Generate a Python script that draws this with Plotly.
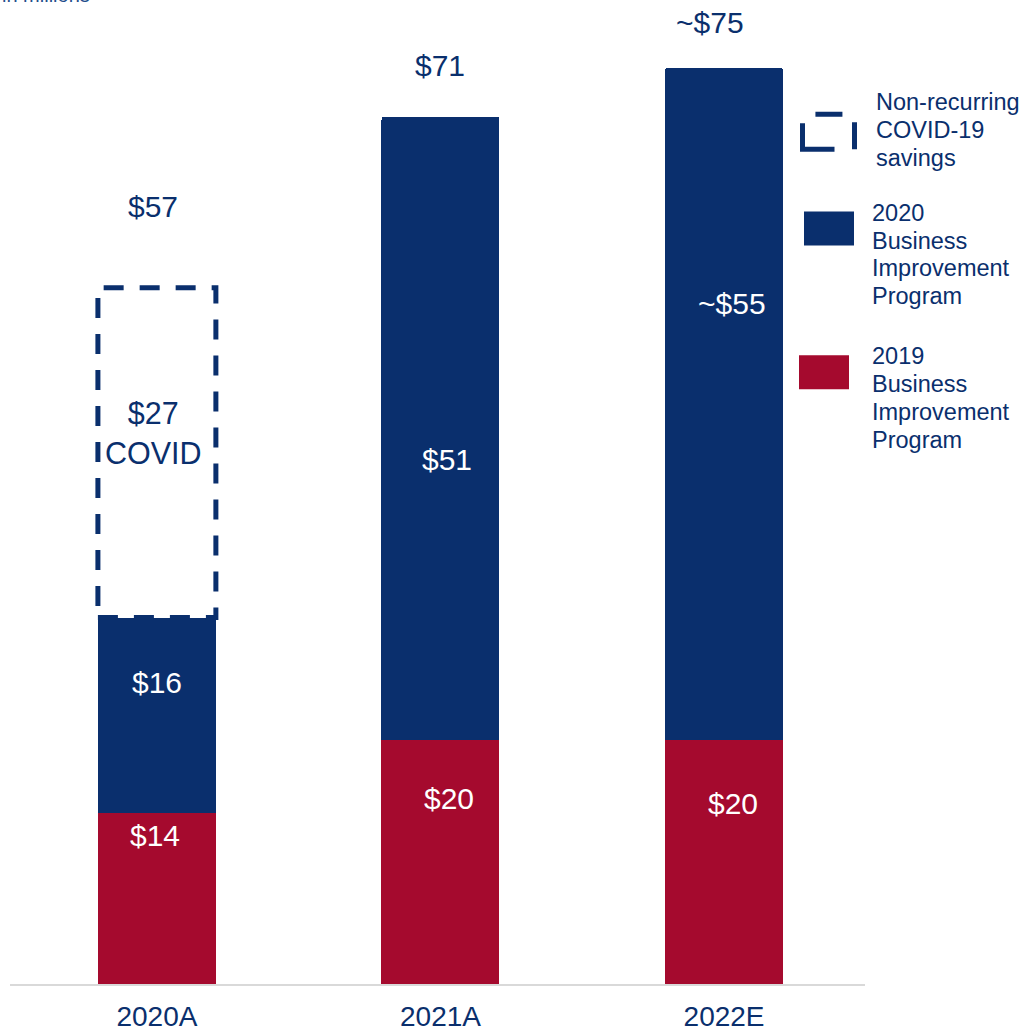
import plotly.graph_objects as go

# ---------------- data ----------------
categories = ["2020A", "2021A", "2022E"]
bip2019 = [14, 20, 20]          # 2019 Business Improvement Program
bip2020 = [16, 51, 55]          # 2020 Business Improvement Program
covid = [27, 0, 0]              # Non-recurring COVID-19 savings
bip2019_labels = ["$14", "$20", "$20"]
bip2020_labels = ["$16", "$51", "~$55"]
covid_labels = ["$27<br>COVID", "", ""]
total_labels = ["$57", "$71", "~$75"]

# ---------------- style ----------------
NAVY = "#0A2F6D"
RED = "#A50A2E"
AXIS_GREY = "#D9D9D9"
FONT = "Arial, 'Liberation Sans', sans-serif"

W, H = 1020, 1032
ML, MR, MT, MB = 10, 155, 0, 46
PX_PER_UNIT = 12.24
Y_MAX = (H - MT - MB) / PX_PER_UNIT
BAR_W = 0.416

# label placement (fraction of segment height) and pixel nudges
frac2019 = [0.87, 0.76, 0.74]
frac2020 = [0.67, 0.45, 0.65]
frac_covid = [0.56, 0, 0]
dx2019 = [-2, 9, 9]
dx2020 = [0, 7, 8]
dx_covid = [-3, 0, 0]
dx_total = [-4, 0, -14]
dy_total = [81, 51, 45]


def px_x(px):
    return (px - ML) / (W - ML - MR)


def px_y(py):
    return (H - MB - py) / (H - MT - MB)


fig = go.Figure()
fig.add_trace(go.Bar(x=categories, y=bip2019, marker=dict(color=RED, line=dict(width=0)),
                     name="2019 Business Improvement Program", showlegend=False))
fig.add_trace(go.Bar(x=categories, y=bip2020, marker=dict(color=NAVY, line=dict(width=0)),
                     name="2020 Business Improvement Program", showlegend=False))

shapes = []
annotations = []

for i, cat in enumerate(categories):
    base2020 = bip2019[i]
    top2020 = bip2019[i] + bip2020[i]
    total = top2020 + covid[i]
    # dashed COVID box
    if covid[i] > 0:
        shapes.append(dict(type="rect", xref="x", yref="y",
                           x0=i - BAR_W / 2, x1=i + BAR_W / 2,
                           y0=top2020, y1=total,
                           line=dict(color=NAVY, width=5, dash="20px,16px"),
                           fillcolor="rgba(0,0,0,0)", layer="above"))
        annotations.append(dict(x=cat, y=top2020 + frac_covid[i] * covid[i], xref="x", yref="y",
                                text=covid_labels[i], showarrow=False, xshift=dx_covid[i],
                                font=dict(family=FONT, size=30.5, color=NAVY)))
    annotations.append(dict(x=cat, y=frac2019[i] * bip2019[i], xref="x", yref="y",
                            text=bip2019_labels[i], showarrow=False, xshift=dx2019[i],
                            font=dict(family=FONT, size=30, color="white")))
    annotations.append(dict(x=cat, y=base2020 + frac2020[i] * bip2020[i], xref="x", yref="y",
                            text=bip2020_labels[i], showarrow=False, xshift=dx2020[i],
                            font=dict(family=FONT, size=30, color="white")))
    annotations.append(dict(x=cat, y=total, xref="x", yref="y",
                            text=total_labels[i], showarrow=False,
                            xshift=dx_total[i], yshift=dy_total[i],
                            font=dict(family=FONT, size=30, color=NAVY)))

# ---------------- custom legend ----------------
shapes.append(dict(type="rect", xref="paper", yref="paper",
                   x0=px_x(802.5), x1=px_x(854.5), y0=px_y(149.5), y1=px_y(114.5),
                   line=dict(color=NAVY, width=5, dash="32px,20px,27px,20px,27px,22px,27px,1px"),
                   fillcolor="rgba(0,0,0,0)"))
shapes.append(dict(type="rect", xref="paper", yref="paper",
                   x0=px_x(804), x1=px_x(854), y0=px_y(246), y1=px_y(212),
                   line=dict(width=0), fillcolor=NAVY))
shapes.append(dict(type="rect", xref="paper", yref="paper",
                   x0=px_x(799), x1=px_x(849), y0=px_y(390), y1=px_y(356),
                   line=dict(width=0), fillcolor=RED))

legend_items = [
    (["Non-recurring", "COVID-19", "savings"], 874, 102),
    (["2020", "Business", "Improvement", "Program"], 870, 213),
    (["2019", "Business", "Improvement", "Program"], 870, 357),
]
LEG_LINE = 28
for lines, lx, ly in legend_items:
    for k, line in enumerate(lines):
        annotations.append(dict(x=px_x(lx), y=px_y(ly + k * LEG_LINE), xref="paper", yref="paper",
                                xanchor="left", yanchor="middle", align="left",
                                text=line, showarrow=False,
                                font=dict(family=FONT, size=23.5, color=NAVY)))

# clipped unit note at the very top
annotations.append(dict(x=px_x(0), y=px_y(8), xref="paper", yref="paper",
                        xanchor="left", yanchor="bottom", text="in millions",
                        showarrow=False, font=dict(family=FONT, size=20, color="#1F4E8C")))

fig.update_layout(
    width=W, height=H,
    margin=dict(l=ML, r=MR, t=MT, b=MB, pad=0),
    barmode="stack",
    bargap=1 - BAR_W,
    barcornerradius=3,
    plot_bgcolor="white", paper_bgcolor="white",
    showlegend=False,
    shapes=shapes,
    annotations=annotations,
    xaxis=dict(type="category", range=[-0.518, 2.497], showgrid=False, zeroline=False,
               showline=True, linecolor=AXIS_GREY, linewidth=2, ticks="",
               ticklabelstandoff=6,
               tickfont=dict(family=FONT, size=28, color=NAVY), fixedrange=True),
    yaxis=dict(range=[0, Y_MAX], visible=False, showgrid=False, zeroline=False, fixedrange=True),
)

fig.write_html("out.html", config={"displayModeBar": False},
               post_script="document.body.style.margin='0px';")
